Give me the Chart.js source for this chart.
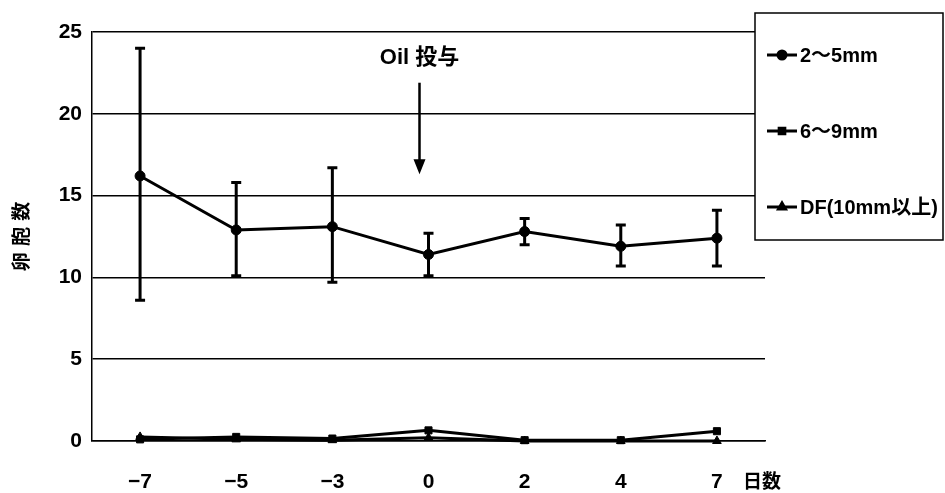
<!DOCTYPE html>
<html>
<head>
<meta charset="utf-8">
<script src="https://cdn.jsdelivr.net/npm/chart.js@4.4.0/dist/chart.umd.min.js"></script>
<style>
  html, body { margin: 0; padding: 0; background: #fff; }
  #wrap { width: 945px; height: 493px; }
</style>
</head>
<body>
<div id="wrap"><canvas id="myChart"></canvas></div>
<script>
var days = ['\u22127', '\u22125', '\u22123', '0', '2', '4', '7'];
var small = [16.2, 12.9, 13.1, 11.4, 12.8, 11.9, 12.4];      // 2~5mm
var smallHigh = [24.0, 15.8, 16.7, 12.7, 13.6, 13.2, 14.1];
var smallLow = [8.6, 10.1, 9.7, 10.1, 12.0, 10.7, 10.7];
var medium = [0.1, 0.25, 0.15, 0.65, 0.05, 0.05, 0.6];       // 6~9mm
var dominant = [0.25, 0.1, 0.05, 0.2, 0.0, 0.0, 0.0];        // DF
var seriesNames = ['2\u301C5mm', '6\u301C9mm', 'DF(10mm\u4EE5\u4E0A)'];
var yTicks = [0, 5, 10, 15, 20, 25];

var latin = '"Liberation Sans", Arial, sans-serif';
var cjk = '"Liberation Sans", "Noto Sans CJK JP", sans-serif';

// error bars on the 2~5mm series
var errorBars = {
    id: 'errorBars',
    afterDatasetsDraw: function (chart) {
        var ctx = chart.ctx;
        var x = chart.scales.x, y = chart.scales.y;
        ctx.save();
        ctx.strokeStyle = '#000';
        ctx.lineWidth = 3;
        for (var i = 0; i < small.length; i++) {
            var px = x.getPixelForValue(i);
            var top = y.getPixelForValue(smallHigh[i]);
            var bot = y.getPixelForValue(smallLow[i]);
            ctx.beginPath();
            ctx.moveTo(px, top); ctx.lineTo(px, bot);
            ctx.moveTo(px - 5, top); ctx.lineTo(px + 5, top);
            ctx.moveTo(px - 5, bot); ctx.lineTo(px + 5, bot);
            ctx.stroke();
        }
        ctx.restore();
    }
};

// "Oil 投与" arrow, x-axis unit and boxed legend
var extras = {
    id: 'extras',
    afterDraw: function (chart) {
        var ctx = chart.ctx;
        var x = chart.scales.x, y = chart.scales.y;
        ctx.save();
        ctx.fillStyle = '#000';
        ctx.strokeStyle = '#000';

        var ax = x.getPixelForValue(3) - 9;
        ctx.font = 'bold 22px ' + cjk;
        ctx.textAlign = 'center';
        ctx.textBaseline = 'middle';
        ctx.fillText('Oil \u6295\u4E0E', ax, y.getPixelForValue(23.4));
        var a1 = y.getPixelForValue(21.9), a2 = y.getPixelForValue(16.3);
        ctx.lineWidth = 2.5;
        ctx.beginPath(); ctx.moveTo(ax, a1); ctx.lineTo(ax, a2 - 12); ctx.stroke();
        ctx.beginPath();
        ctx.moveTo(ax - 6, a2 - 15); ctx.lineTo(ax + 6, a2 - 15); ctx.lineTo(ax, a2);
        ctx.closePath(); ctx.fill();

        ctx.font = 'bold 19px ' + cjk;
        ctx.textAlign = 'left';
        ctx.fillText('\u65E5\u6570', 743, 483);

        // legend box
        var bx = 755, by = 13, bw = 188, bh = 227;
        ctx.fillStyle = '#fff';
        ctx.fillRect(bx, by, bw, bh);
        ctx.fillStyle = '#000';
        ctx.lineWidth = 1.5;
        ctx.strokeRect(bx, by, bw, bh);
        var styles = ['circle', 'rect', 'triangle'];
        ctx.font = 'bold 20px ' + cjk;
        ctx.textBaseline = 'middle';
        for (var i = 0; i < seriesNames.length; i++) {
            var ly = 55 + i * 76;
            ctx.lineWidth = 3;
            ctx.beginPath(); ctx.moveTo(bx + 12, ly); ctx.lineTo(bx + 42, ly); ctx.stroke();
            Chart.helpers.drawPoint(ctx, { pointStyle: styles[i], radius: 4, borderWidth: 1 }, bx + 27, ly);
            ctx.fillText(seriesNames[i], bx + 45, ly + 1);
        }
        ctx.restore();
    }
};

function lineSet(label, data, style) {
    return {
        label: label,
        data: data,
        borderColor: '#000',
        backgroundColor: '#000',
        borderWidth: 3,
        pointStyle: style,
        pointRadius: 5,
        pointBorderWidth: 1,
        tension: 0,
        clip: false
    };
}

var ctx = document.getElementById('myChart').getContext('2d');
var myChart = new Chart(ctx, {
    type: 'line',
    data: {
        labels: days,
        datasets: [
            lineSet(seriesNames[0], small, 'circle'),
            lineSet(seriesNames[1], medium, 'rect'),
            lineSet(seriesNames[2], dominant, 'triangle')
        ]
    },
    options: {
        responsive: true,
        maintainAspectRatio: false,
        animation: false,
        layout: { padding: { left: 0, right: 180, top: 32, bottom: 0 } },
        plugins: {
            legend: { display: false },
            tooltip: { enabled: false }
        },
        scales: {
            x: {
                offset: true,
                afterFit: function (axis) { axis.height = 52; },
                grid: { display: false, drawTicks: false },
                border: { display: true, color: '#000', width: 1.5 },
                ticks: {
                    color: '#000',
                    padding: 29,
                    maxRotation: 0,
                    font: { family: latin, size: 21, weight: 'bold' }
                }
            },
            y: {
                min: 0,
                max: 25,
                afterFit: function (axis) { axis.width = 92; },
                afterBuildTicks: function (axis) {
                    axis.ticks = yTicks.map(function (v) { return { value: v }; });
                },
                grid: { color: '#000', lineWidth: 1.5, drawTicks: false },
                border: { display: true, color: '#000', width: 1.5 },
                ticks: {
                    color: '#000',
                    padding: 10,
                    font: { family: latin, size: 21, weight: 'bold' }
                },
                title: {
                    display: true,
                    text: '\u5375\u2004\u80DE\u2004\u6570',
                    color: '#000',
                    padding: { top: 9, bottom: 0 },
                    font: { family: '"Noto Sans CJK JP", sans-serif', size: 19, weight: 'bold' }
                }
            }
        }
    },
    plugins: [errorBars, extras]
});
</script>
</body>
</html>
